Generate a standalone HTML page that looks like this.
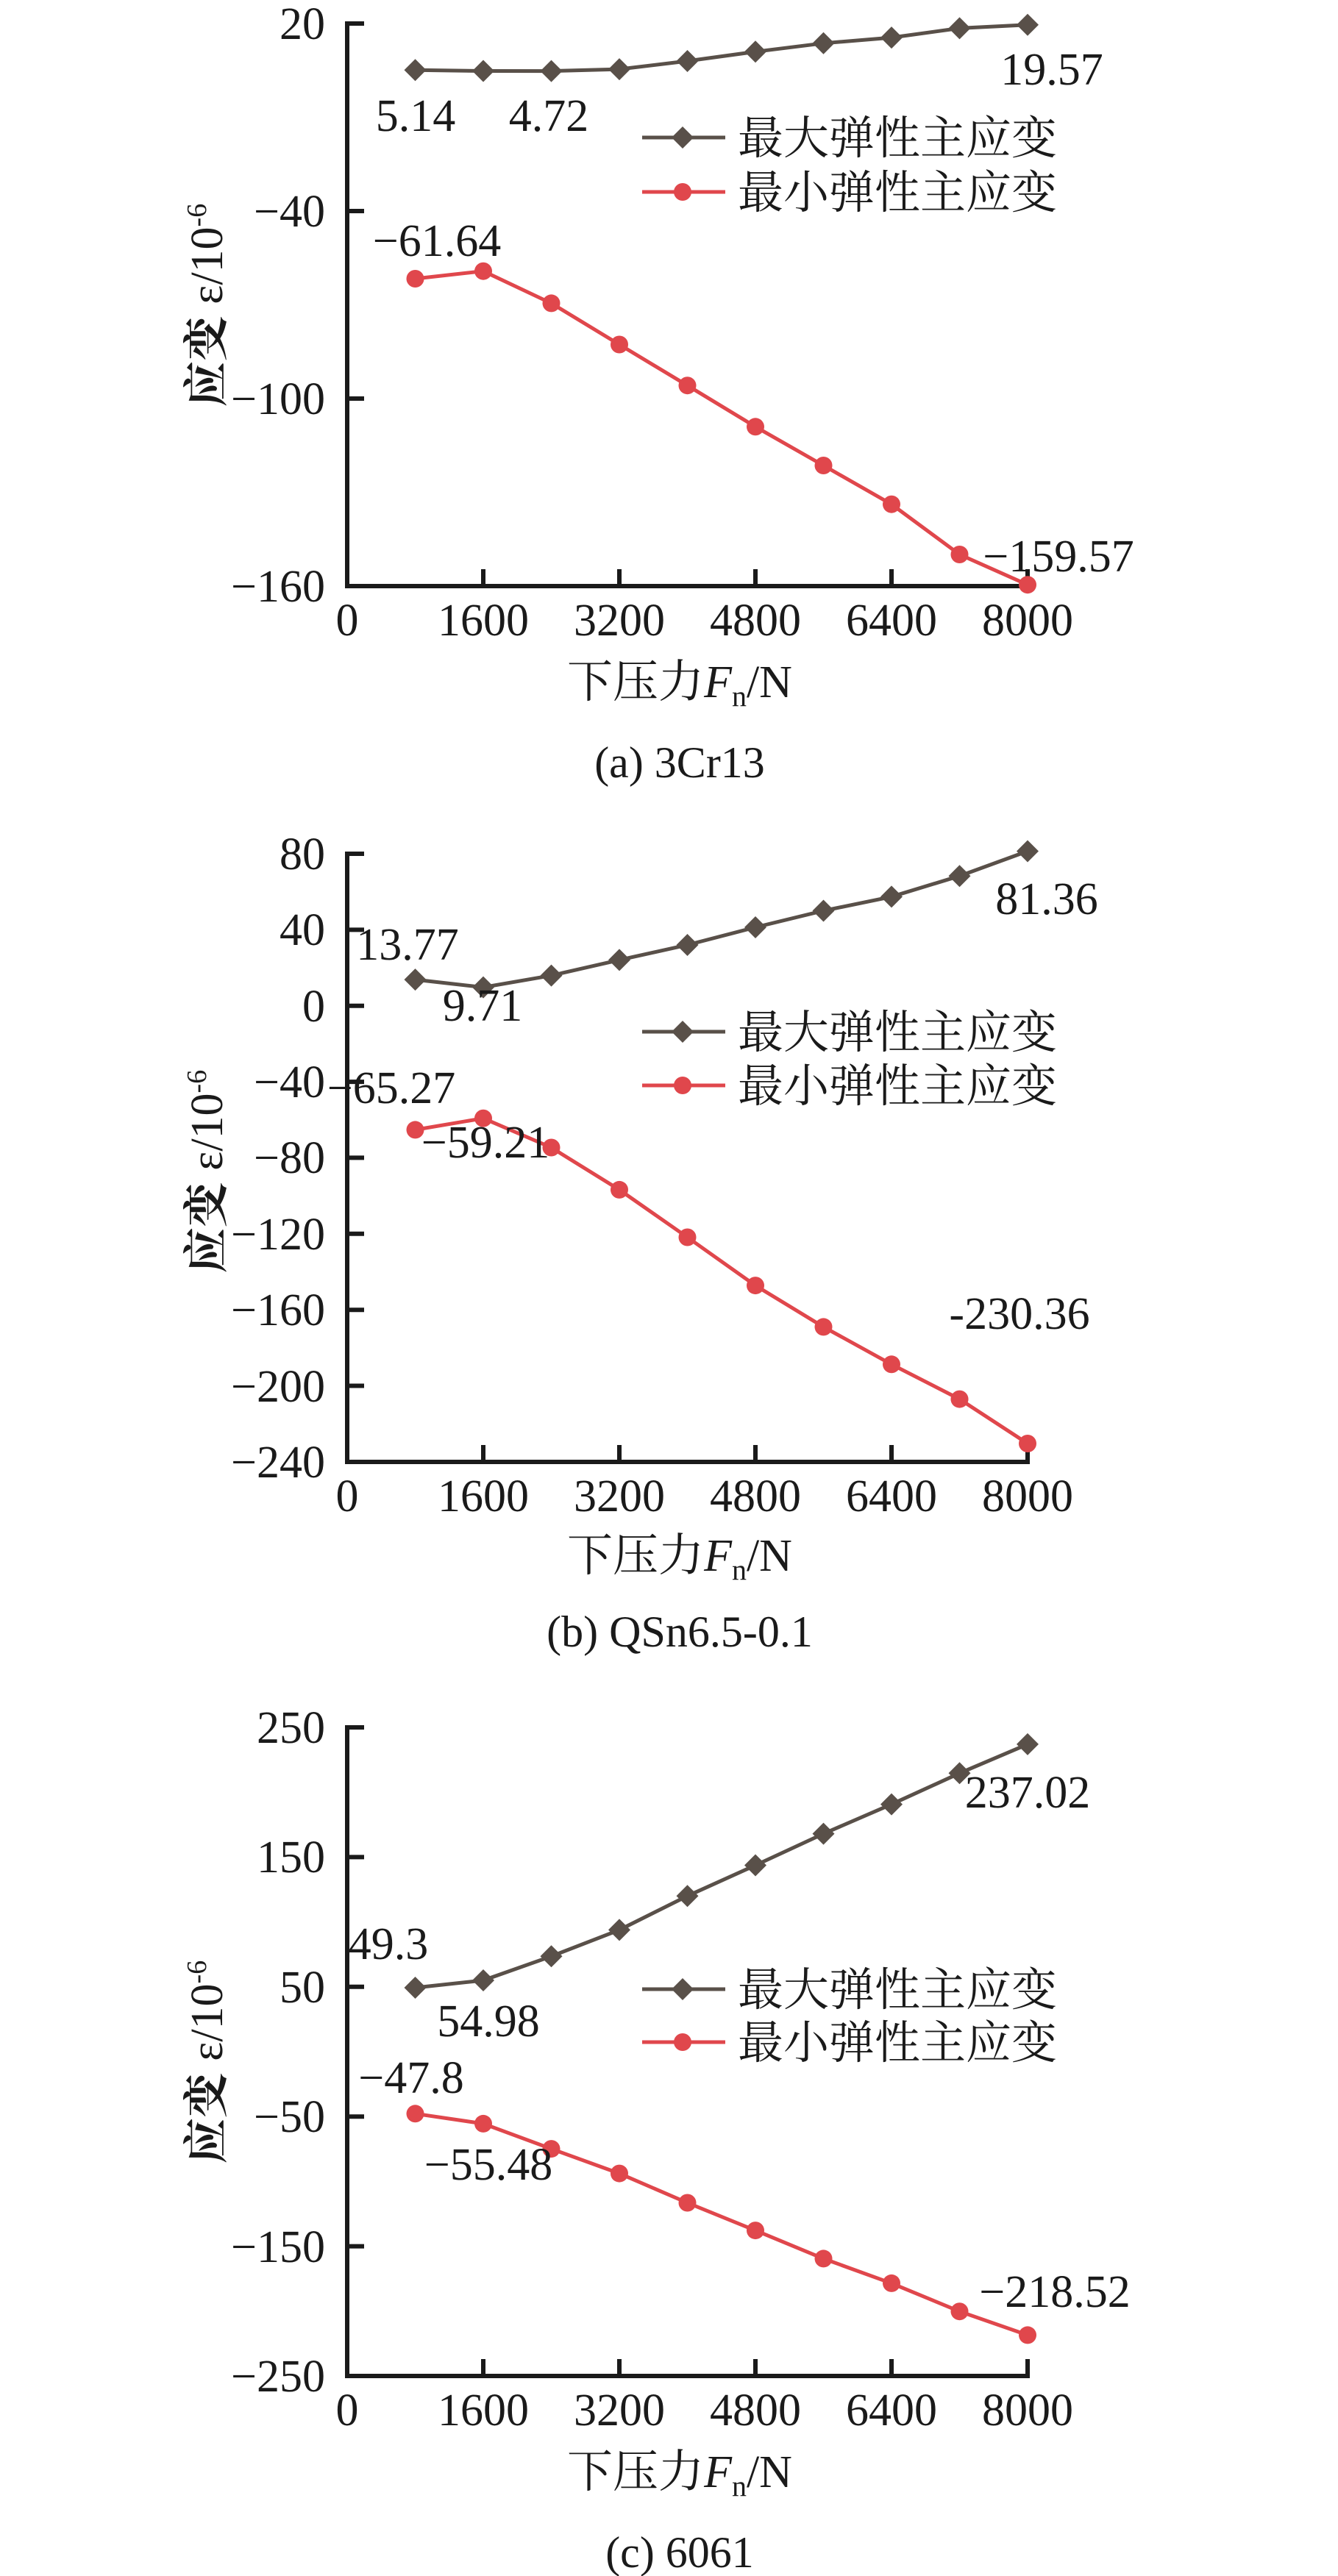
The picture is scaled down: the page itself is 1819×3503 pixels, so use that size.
<!DOCTYPE html>
<html><head><meta charset="utf-8"><style>
html,body{margin:0;padding:0;background:#fff;}
svg{display:block;}
text{font-family:"Liberation Serif","Noto Serif CJK SC","Noto Sans CJK SC",serif;fill:#1a1a1a;}
.t{font-size:60px;}
.tl{font-size:62px;text-anchor:end;}
.tc{font-size:62px;text-anchor:middle;}
.lg{font-size:62px;}
.ax{stroke:#1a1a1a;stroke-width:6;fill:none;stroke-linecap:square;}
.s1{stroke:#595049;stroke-width:5;fill:none;}
.s2{stroke:#e0474c;stroke-width:5;fill:none;}
.d{fill:#595049;}
.c{fill:#e0474c;}
</style></head><body>
<svg width="1819" height="3503" viewBox="0 0 1819 3503" xmlns="http://www.w3.org/2000/svg">
<defs>
<path id="dm" d="M0,-15 L15,0 L0,15 L-15,0 Z"/>
</defs>

<!-- ===== Chart A ===== -->
<g>
<path class="ax" d="M492,32 H472 V797 H1397"/>
<path class="ax" d="M472,287 H492 M472,542 H492 M657,797 V777 M842,797 V777 M1027,797 V777 M1212,797 V777 M1397,797 V777"/>
<text class="tl" x="442" y="53">20</text>
<text class="tl" x="442" y="308">−40</text>
<text class="tl" x="442" y="563">−100</text>
<text class="tl" x="442" y="818">−160</text>
<text class="tc" x="472" y="864">0</text>
<text class="tc" x="657" y="864">1600</text>
<text class="tc" x="842" y="864">3200</text>
<text class="tc" x="1027" y="864">4800</text>
<text class="tc" x="1212" y="864">6400</text>
<text class="tc" x="1397" y="864">8000</text>
<polyline class="s1" points="564.5,95.2 657,96.5 749.5,96.6 842,94.1 934.5,83 1027,70.3 1119.5,58.8 1212,51.1 1304.5,38.4 1397,33.8"/>
<use href="#dm" class="d" x="564.5" y="95.2"/><use href="#dm" class="d" x="657" y="96.5"/><use href="#dm" class="d" x="749.5" y="96.6"/><use href="#dm" class="d" x="842" y="94.1"/><use href="#dm" class="d" x="934.5" y="83"/><use href="#dm" class="d" x="1027" y="70.3"/><use href="#dm" class="d" x="1119.5" y="58.8"/><use href="#dm" class="d" x="1212" y="51.1"/><use href="#dm" class="d" x="1304.5" y="38.4"/><use href="#dm" class="d" x="1397" y="33.8"/>
<polyline class="s2" points="564.5,379 657,368.7 749.5,412.4 842,468.5 934.5,524.2 1027,580.3 1119.5,633 1212,685.7 1304.5,754 1397,795.2"/>
<g class="c"><circle cx="564.5" cy="379" r="12"/><circle cx="657" cy="368.7" r="12"/><circle cx="749.5" cy="412.4" r="12"/><circle cx="842" cy="468.5" r="12"/><circle cx="934.5" cy="524.2" r="12"/><circle cx="1027" cy="580.3" r="12"/><circle cx="1119.5" cy="633" r="12"/><circle cx="1212" cy="685.7" r="12"/><circle cx="1304.5" cy="754" r="12"/><circle cx="1397" cy="795.2" r="12"/></g>
<text class="tc" x="565" y="178">5.14</text>
<text class="tc" x="746" y="178">4.72</text>
<text class="tc" x="1430" y="115">19.57</text>
<text class="tc" x="594" y="348">−61.64</text>
<text class="tc" x="1439" y="777">−159.57</text>
<line class="s1" x1="873" y1="187" x2="986" y2="187"/><use href="#dm" class="d" x="928" y="187"/>
<text class="lg" x="1003" y="209">最大弹性主应变</text>
<line class="s2" x1="873" y1="261" x2="986" y2="261"/><circle class="c" cx="928" cy="261" r="12"/>
<text class="lg" x="1003" y="283">最小弹性主应变</text>
<text class="lg" transform="translate(302,415) rotate(-90)" text-anchor="middle"><tspan font-weight="bold">应变</tspan> ε/10<tspan dy="-22" font-size="38">-6</tspan></text>
<text class="lg" x="924" y="948" text-anchor="middle">下压力<tspan font-style="italic">F</tspan><tspan font-size="40" dy="12">n</tspan><tspan dy="-12">/N</tspan></text>
<text class="t" x="924" y="1057" text-anchor="middle">(a) 3Cr13</text>
</g>

<!-- ===== Chart B ===== -->
<g>
<path class="ax" d="M492,1161 H472 V1988 H1397"/>
<path class="ax" d="M472,1264.4 H492 M472,1367.7 H492 M472,1471.1 H492 M472,1574.4 H492 M472,1677.8 H492 M472,1781.2 H492 M472,1884.5 H492 M657,1988 V1968 M842,1988 V1968 M1027,1988 V1968 M1212,1988 V1968 M1397,1988 V1968"/>
<text class="tl" x="442" y="1182">80</text>
<text class="tl" x="442" y="1285">40</text>
<text class="tl" x="442" y="1389">0</text>
<text class="tl" x="442" y="1492">−40</text>
<text class="tl" x="442" y="1595">−80</text>
<text class="tl" x="442" y="1699">−120</text>
<text class="tl" x="442" y="1802">−160</text>
<text class="tl" x="442" y="1906">−200</text>
<text class="tl" x="442" y="2009">−240</text>
<text class="tc" x="472" y="2055">0</text>
<text class="tc" x="657" y="2055">1600</text>
<text class="tc" x="842" y="2055">3200</text>
<text class="tc" x="1027" y="2055">4800</text>
<text class="tc" x="1212" y="2055">6400</text>
<text class="tc" x="1397" y="2055">8000</text>
<polyline class="s1" points="564.5,1332.1 657,1342.6 749.5,1326.6 842,1305.4 934.5,1285 1027,1261 1119.5,1238.5 1212,1219.4 1304.5,1191.2 1397,1157.5"/>
<use href="#dm" class="d" x="564.5" y="1332.1"/><use href="#dm" class="d" x="657" y="1342.6"/><use href="#dm" class="d" x="749.5" y="1326.6"/><use href="#dm" class="d" x="842" y="1305.4"/><use href="#dm" class="d" x="934.5" y="1285"/><use href="#dm" class="d" x="1027" y="1261"/><use href="#dm" class="d" x="1119.5" y="1238.5"/><use href="#dm" class="d" x="1212" y="1219.4"/><use href="#dm" class="d" x="1304.5" y="1191.2"/><use href="#dm" class="d" x="1397" y="1157.5"/>
<polyline class="s2" points="564.5,1536.4 657,1520.7 749.5,1560.5 842,1617.9 934.5,1682.5 1027,1748.1 1119.5,1804.4 1212,1855.3 1304.5,1902.6 1397,1963"/>
<g class="c"><circle cx="564.5" cy="1536.4" r="12"/><circle cx="657" cy="1520.7" r="12"/><circle cx="749.5" cy="1560.5" r="12"/><circle cx="842" cy="1617.9" r="12"/><circle cx="934.5" cy="1682.5" r="12"/><circle cx="1027" cy="1748.1" r="12"/><circle cx="1119.5" cy="1804.4" r="12"/><circle cx="1212" cy="1855.3" r="12"/><circle cx="1304.5" cy="1902.6" r="12"/><circle cx="1397" cy="1963" r="12"/></g>
<text class="tc" x="554" y="1305">13.77</text>
<text class="tc" x="656" y="1388">9.71</text>
<text class="tc" x="1423" y="1243">81.36</text>
<text class="tc" x="532" y="1500">−65.27</text>
<text class="tc" x="660" y="1574">−59.21</text>
<text class="tc" x="1386" y="1807">-230.36</text>
<line class="s1" x1="873" y1="1403" x2="986" y2="1403"/><use href="#dm" class="d" x="928" y="1403"/>
<text class="lg" x="1003" y="1425">最大弹性主应变</text>
<line class="s2" x1="873" y1="1476" x2="986" y2="1476"/><circle class="c" cx="928" cy="1476" r="12"/>
<text class="lg" x="1003" y="1498">最小弹性主应变</text>
<text class="lg" transform="translate(302,1593) rotate(-90)" text-anchor="middle"><tspan font-weight="bold">应变</tspan> ε/10<tspan dy="-22" font-size="38">-6</tspan></text>
<text class="lg" x="924" y="2136" text-anchor="middle">下压力<tspan font-style="italic">F</tspan><tspan font-size="40" dy="12">n</tspan><tspan dy="-12">/N</tspan></text>
<text class="t" x="924" y="2239" text-anchor="middle">(b) QSn6.5-0.1</text>
</g>

<!-- ===== Chart C ===== -->
<g>
<path class="ax" d="M492,2349 H472 V3231 H1397"/>
<path class="ax" d="M472,2525.4 H492 M472,2701.8 H492 M472,2878.2 H492 M472,3054.6 H492 M657,3231 V3211 M842,3231 V3211 M1027,3231 V3211 M1212,3231 V3211 M1397,3231 V3211"/>
<text class="tl" x="442" y="2370">250</text>
<text class="tl" x="442" y="2546">150</text>
<text class="tl" x="442" y="2723">50</text>
<text class="tl" x="442" y="2899">−50</text>
<text class="tl" x="442" y="3076">−150</text>
<text class="tl" x="442" y="3252">−250</text>
<text class="tc" x="472" y="3298">0</text>
<text class="tc" x="657" y="3298">1600</text>
<text class="tc" x="842" y="3298">3200</text>
<text class="tc" x="1027" y="3298">4800</text>
<text class="tc" x="1212" y="3298">6400</text>
<text class="tc" x="1397" y="3298">8000</text>
<polyline class="s1" points="564.5,2703 657,2693 749.5,2660.3 842,2624.4 934.5,2578.3 1027,2536.5 1119.5,2493.6 1212,2453.6 1304.5,2411.3 1397,2371.9"/>
<use href="#dm" class="d" x="564.5" y="2703"/><use href="#dm" class="d" x="657" y="2693"/><use href="#dm" class="d" x="749.5" y="2660.3"/><use href="#dm" class="d" x="842" y="2624.4"/><use href="#dm" class="d" x="934.5" y="2578.3"/><use href="#dm" class="d" x="1027" y="2536.5"/><use href="#dm" class="d" x="1119.5" y="2493.6"/><use href="#dm" class="d" x="1212" y="2453.6"/><use href="#dm" class="d" x="1304.5" y="2411.3"/><use href="#dm" class="d" x="1397" y="2371.9"/>
<polyline class="s2" points="564.5,2874.3 657,2887.9 749.5,2922.1 842,2955.6 934.5,2995.5 1027,3033.1 1119.5,3071.4 1212,3104.9 1304.5,3143.2 1397,3175.4"/>
<g class="c"><circle cx="564.5" cy="2874.3" r="12"/><circle cx="657" cy="2887.9" r="12"/><circle cx="749.5" cy="2922.1" r="12"/><circle cx="842" cy="2955.6" r="12"/><circle cx="934.5" cy="2995.5" r="12"/><circle cx="1027" cy="3033.1" r="12"/><circle cx="1119.5" cy="3071.4" r="12"/><circle cx="1212" cy="3104.9" r="12"/><circle cx="1304.5" cy="3143.2" r="12"/><circle cx="1397" cy="3175.4" r="12"/></g>
<text class="tc" x="528" y="2664">49.3</text>
<text class="tc" x="664" y="2769">54.98</text>
<text class="tc" x="1397" y="2458">237.02</text>
<text class="tc" x="559" y="2846">−47.8</text>
<text class="tc" x="664" y="2964">−55.48</text>
<text class="tc" x="1434" y="3137">−218.52</text>
<line class="s1" x1="873" y1="2705" x2="986" y2="2705"/><use href="#dm" class="d" x="928" y="2705"/>
<text class="lg" x="1003" y="2727">最大弹性主应变</text>
<line class="s2" x1="873" y1="2777" x2="986" y2="2777"/><circle class="c" cx="928" cy="2777" r="12"/>
<text class="lg" x="1003" y="2799">最小弹性主应变</text>
<text class="lg" transform="translate(302,2804) rotate(-90)" text-anchor="middle"><tspan font-weight="bold">应变</tspan> ε/10<tspan dy="-22" font-size="38">-6</tspan></text>
<text class="lg" x="924" y="3382" text-anchor="middle">下压力<tspan font-style="italic">F</tspan><tspan font-size="40" dy="12">n</tspan><tspan dy="-12">/N</tspan></text>
<text class="t" x="924" y="3491" text-anchor="middle">(c) 6061</text>
</g>
</svg>
</body></html>
